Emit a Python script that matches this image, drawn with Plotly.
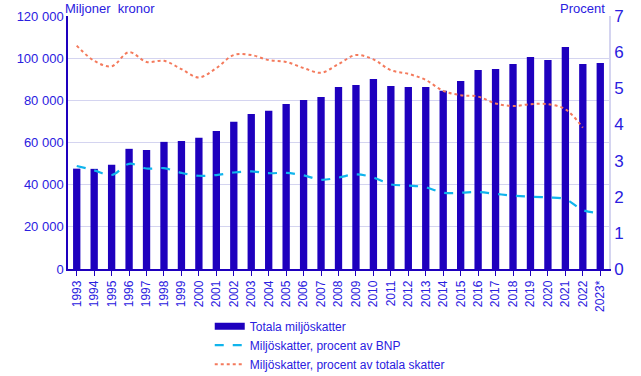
import plotly.graph_objects as go

years = ["1993","1994","1995","1996","1997","1998","1999","2000","2001","2002","2003","2004",
         "2005","2006","2007","2008","2009","2010","2011","2012","2013","2014","2015","2016",
         "2017","2018","2019","2020","2021","2022","2023*"]

total_taxes = [47600, 47500, 49500, 57000, 56500, 60300, 60700, 62300, 65500, 69800, 73500, 75000,
               78300, 80200, 81600, 86300, 87300, 90100, 86800, 86300, 86300, 84600, 89200, 94400,
               94900, 97200, 100600, 99100, 105300, 97200, 97700]

pct_bnp = [2.85, 2.73, 2.60, 2.91, 2.78, 2.79, 2.66, 2.58, 2.60, 2.67, 2.70, 2.65,
           2.66, 2.59, 2.47, 2.53, 2.62, 2.53, 2.34, 2.31, 2.26, 2.11, 2.11, 2.13,
           2.08, 2.03, 2.00, 1.98, 1.93, 1.63, 1.55]

pct_total = [6.18, 5.76, 5.61, 6.00, 5.73, 5.76, 5.53, 5.30, 5.56, 5.92, 5.92, 5.78,
             5.73, 5.56, 5.43, 5.67, 5.92, 5.80, 5.50, 5.40, 5.23, 4.93, 4.81, 4.77,
             4.58, 4.51, 4.56, 4.56, 4.42, 3.91, None]

left_ticks = [0, 20000, 40000, 60000, 80000, 100000, 120000]
left_labels = ["0", "20 000", "40 000", "60 000", "80 000", "100 000", "120 000"]

BAR = "#1e00be"
TXT = "#2a20e0"
GRID = "#d4d4f0"

fig = go.Figure()
fig.add_trace(go.Bar(x=years, y=total_taxes, name="Totala miljöskatter", showlegend=False,
                     marker=dict(color=BAR, line=dict(width=0)), width=0.42))
# legend-only entry for the bar series (wide rectangle symbol)
fig.add_trace(go.Scatter(x=[None], y=[None], name="Totala miljöskatter", mode="lines",
                         line=dict(color=BAR, width=7)))
fig.add_trace(go.Scatter(x=years, y=pct_bnp, name="Miljöskatter, procent av BNP", yaxis="y2",
                         mode="lines", line=dict(color="#10b4ec", width=2.2, dash="dash", shape="spline")))
fig.add_trace(go.Scatter(x=years, y=pct_total, name="Miljöskatter, procent av totala skatter", yaxis="y2",
                         mode="lines", connectgaps=False,
                         line=dict(color="#f47a5c", width=2, dash="dot", shape="spline")))

fig.update_layout(
    width=641, height=376,
    margin=dict(l=68, r=32, t=16, b=107, autoexpand=False),
    paper_bgcolor="white", plot_bgcolor="white",
    font=dict(family="Liberation Sans, Arial, sans-serif", color=TXT, size=12),
    showlegend=True,
    bargap=0.5,
    xaxis=dict(type="category", tickangle=-90, tickfont=dict(size=12, color=TXT), automargin=False,
               showline=True, linecolor=BAR, linewidth=1.5, ticks="outside", tickcolor=BAR,
               ticklen=5, showgrid=False, mirror=False),
    yaxis=dict(range=[0, 120000], tickvals=left_ticks, ticktext=left_labels, automargin=False,
               tickfont=dict(size=13, color=TXT), showgrid=True, gridcolor=GRID, gridwidth=1,
               showline=True, linecolor=BAR, linewidth=1.5, zeroline=False),
    yaxis2=dict(range=[0, 7], overlaying="y", side="right", tickvals=[0,1,2,3,4,5,6,7],
                automargin=False,
                tickfont=dict(size=17, color=TXT), showgrid=False, showline=True,
                linecolor=GRID, linewidth=1.5, zeroline=False),
    legend=dict(x=0.262, xref="paper", y=0.171, yref="container", xanchor="left", yanchor="top",
                orientation="v", font=dict(size=12, color=TXT), bgcolor="rgba(0,0,0,0)",
                tracegroupgap=0, itemwidth=30),
    annotations=[
        dict(text="Miljoner  kronor", x=0, xref="paper", y=1.0, yref="paper", xanchor="left",
             yanchor="bottom", showarrow=False, font=dict(size=13, color=TXT), xshift=-5, yshift=-2),
        dict(text="Procent", x=1, xref="paper", y=1.0, yref="paper", xanchor="right",
             yanchor="bottom", showarrow=False, font=dict(size=13, color=TXT), xshift=-2, yshift=-2),
    ],
)

fig.write_html("out.html", config={"displayModeBar": False},
               post_script="document.body.style.margin='0px';")
